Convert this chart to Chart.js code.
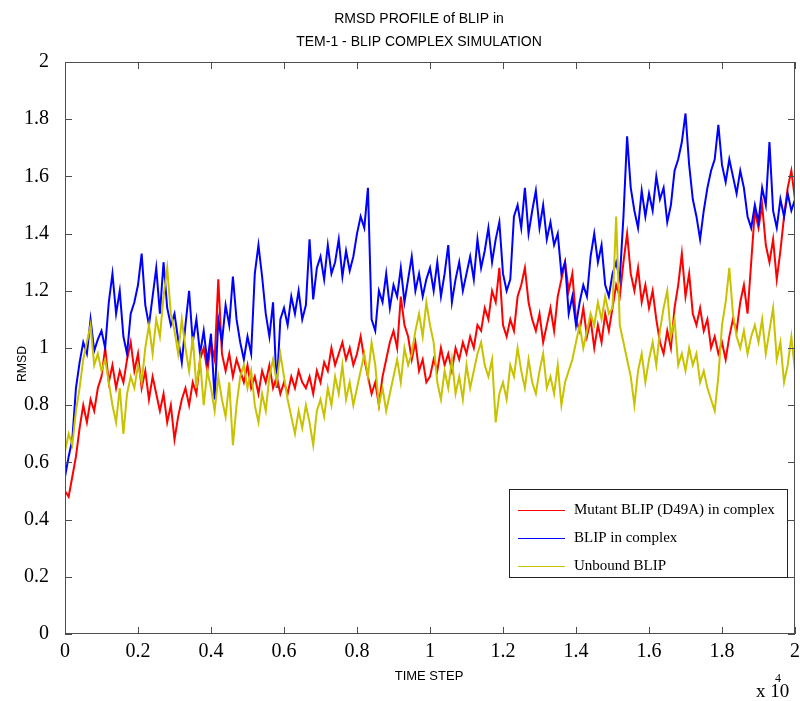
<!DOCTYPE html>
<html lang="en">
<head>
    <meta charset="UTF-8">
    <title>RMSD Profile of BLIP</title>
    <script src="https://cdn.jsdelivr.net/npm/chart.js"></script>
    <style>
        * {
            margin: 0;
            padding: 0;
            box-sizing: border-box;
        }

        body {
            background: #ffffff;
            width: 800px;
            height: 701px;
            overflow: hidden;
        }

        .chart-container {
            position: relative;
            width: 800px;
            height: 701px;
        }
    </style>
</head>
<body>
    <div class="chart-container">
        <canvas id="rmsdChart"></canvas>
    </div>

    <script>
        // values, one sample every 100 time steps (0 .. 20000)
        const mutantBlip = [
            0.50, 0.48, 0.55, 0.62, 0.72, 0.80, 0.74, 0.82, 0.78, 0.86,
            0.90, 1.00, 0.88, 0.94, 0.86, 0.92, 0.88, 0.96, 1.02, 0.92,
            0.98, 0.86, 0.92, 0.82, 0.90, 0.84, 0.78, 0.84, 0.74, 0.80,
            0.68, 0.76, 0.82, 0.86, 0.80, 0.88, 0.84, 0.96, 1.00, 0.92,
            1.02, 0.96, 1.24, 0.98, 0.92, 0.98, 0.90, 0.96, 0.92, 0.88,
            0.94, 0.86, 0.90, 0.84, 0.92, 0.88, 0.94, 0.86, 0.90, 0.84,
            0.88, 0.84, 0.90, 0.86, 0.92, 0.88, 0.86, 0.90, 0.84, 0.92,
            0.88, 0.95, 0.92, 1.00, 0.94, 0.98, 1.02, 0.96, 1.00, 0.94,
            0.98, 1.04, 0.96, 0.90, 0.84, 0.88, 0.80, 0.90, 0.96, 1.02,
            1.06, 1.00, 1.18, 1.08, 1.04, 0.96, 1.02, 0.92, 0.96, 0.88,
            0.90, 0.96, 0.92, 1.00, 0.94, 0.98, 0.92, 1.00, 0.96, 1.02,
            0.98, 1.04, 1.00, 1.08, 1.06, 1.14, 1.10, 1.20, 1.16, 1.28,
            1.08, 1.04, 1.10, 1.06, 1.18, 1.22, 1.28, 1.16, 1.10, 1.06,
            1.12, 1.02, 1.08, 1.14, 1.06, 1.18, 1.24, 1.30, 1.20, 1.26,
            1.10, 1.06, 1.14, 1.04, 1.10, 1.00, 1.08, 1.02, 1.12, 1.06,
            1.14, 1.22, 1.18, 1.30, 1.40, 1.26, 1.20, 1.28, 1.16, 1.22,
            1.14, 1.20, 1.10, 1.02, 0.98, 1.06, 1.00, 1.14, 1.22, 1.33,
            1.18, 1.26, 1.12, 1.08, 1.14, 1.06, 1.10, 1.00, 1.04, 0.98,
            1.02, 0.96, 1.04, 1.10, 1.06, 1.16, 1.22, 1.12, 1.30, 1.48,
            1.42, 1.50, 1.36, 1.30, 1.38, 1.24, 1.34, 1.46, 1.56, 1.62,
            1.52
        ];

        const blipComplex = [
            0.55, 0.62, 0.68, 0.86, 0.95, 1.02, 0.98, 1.10, 0.99, 1.03,
            1.06, 1.00, 1.16, 1.26, 1.12, 1.20, 1.04, 0.98, 1.12, 1.16,
            1.22, 1.33, 1.15, 1.08, 1.18, 1.28, 1.12, 1.30, 1.14, 1.08,
            1.12, 1.03, 0.95, 1.08, 1.20, 1.02, 1.10, 0.98, 1.06, 0.95,
            1.05, 0.82, 1.10, 1.02, 1.15, 1.08, 1.25, 1.10, 1.02, 0.96,
            1.04, 0.98, 1.26, 1.36, 1.25, 1.12, 1.04, 1.16, 0.86, 1.10,
            1.14, 1.08, 1.18, 1.12, 1.20, 1.10, 1.15, 1.38, 1.17, 1.28,
            1.32, 1.24, 1.36, 1.26, 1.30, 1.38, 1.25, 1.34, 1.27, 1.32,
            1.40, 1.46, 1.42, 1.56, 1.10, 1.06, 1.20, 1.16, 1.26, 1.14,
            1.22, 1.18, 1.28, 1.16, 1.24, 1.32, 1.20, 1.26, 1.18, 1.24,
            1.28, 1.20, 1.30, 1.18, 1.26, 1.36, 1.16, 1.24, 1.30, 1.20,
            1.26, 1.32, 1.24, 1.38, 1.28, 1.34, 1.42, 1.30, 1.38, 1.44,
            1.26, 1.20, 1.24, 1.46, 1.50, 1.42, 1.56, 1.40, 1.48, 1.55,
            1.42, 1.50, 1.38, 1.44, 1.36, 1.40, 1.26, 1.30, 1.12, 1.18,
            1.08, 1.16, 1.22, 1.18, 1.32, 1.40, 1.30, 1.36, 1.22, 1.18,
            1.26, 1.30, 1.24, 1.46, 1.74, 1.56, 1.48, 1.42, 1.55, 1.46,
            1.54, 1.48, 1.60, 1.52, 1.56, 1.44, 1.50, 1.62, 1.66, 1.72,
            1.82, 1.64, 1.52, 1.46, 1.38, 1.48, 1.56, 1.62, 1.66, 1.78,
            1.64, 1.58, 1.66, 1.60, 1.54, 1.62, 1.56, 1.46, 1.42, 1.50,
            1.44, 1.56, 1.50, 1.72, 1.48, 1.42, 1.52, 1.46, 1.54, 1.48,
            1.52
        ];

        const unboundBlip = [
            0.64, 0.70, 0.66, 0.78, 0.86, 0.96, 1.02, 1.08, 0.94, 0.98,
            0.92, 0.96, 0.88, 0.80, 0.74, 0.86, 0.70, 0.84, 0.90, 0.86,
            0.94, 0.88, 1.00, 1.08, 0.98, 1.10, 1.04, 1.18, 1.28, 1.12,
            1.06, 0.98, 1.10, 1.00, 0.92, 1.04, 0.86, 0.96, 0.80, 0.92,
            0.86, 0.78, 0.90, 0.82, 0.76, 0.88, 0.66, 0.80, 0.90, 0.94,
            0.86, 0.92, 0.80, 0.74, 0.84, 0.78, 0.90, 0.96, 0.88, 0.98,
            0.90, 0.82, 0.76, 0.70, 0.78, 0.72, 0.80, 0.74, 0.66, 0.78,
            0.82, 0.76, 0.86, 0.80, 0.90, 0.84, 0.94, 0.82, 0.88, 0.80,
            0.86, 0.92, 0.98, 0.90, 1.02, 0.94, 0.80, 0.86, 0.78, 0.84,
            0.90, 0.96, 0.88, 1.00, 0.94, 0.98, 1.06, 1.12, 1.04, 1.16,
            1.08, 1.02, 0.88, 0.82, 0.92, 0.86, 0.96, 0.84, 0.90, 0.82,
            0.94, 0.86, 0.92, 0.98, 1.02, 0.94, 0.90, 0.96, 0.74, 0.84,
            0.88, 0.82, 0.94, 0.90, 1.00, 0.92, 0.86, 0.96, 0.88, 0.84,
            0.92, 0.98, 0.86, 0.90, 0.84, 0.94, 0.80, 0.88, 0.92, 0.96,
            1.02, 1.08, 1.00, 1.06, 1.12, 1.08, 1.16, 1.10, 1.18, 1.12,
            1.14, 1.46, 1.08, 1.02, 0.96, 0.90, 0.80, 0.92, 0.98, 0.88,
            0.96, 1.02, 0.94, 1.06, 1.14, 1.20, 1.04, 1.10, 0.94, 0.98,
            0.92, 1.00, 0.94, 0.98, 0.88, 0.92, 0.86, 0.82, 0.78, 0.90,
            1.08, 1.16, 1.28, 1.12, 1.04, 1.00, 1.06, 0.98, 1.04, 1.08,
            1.02, 1.10, 0.98, 1.06, 1.14, 0.96, 1.02, 0.88, 0.94, 1.04,
            0.92
        ];

        const timeSteps = mutantBlip.map((_, i) => i * 100);
        const seriesNames = ['Mutant BLIP (D49A) in complex', 'BLIP in complex', 'Unbound BLIP'];
        const xTickLabels = ['0', '0.2', '0.4', '0.6', '0.8', '1', '1.2', '1.4', '1.6', '1.8', '2'];
        const yTickLabels = ['0', '0.2', '0.4', '0.6', '0.8', '1', '1.2', '1.4', '1.6', '1.8', '2'];

        const colors = ['#ff0000', '#0000ff', '#c8c200'];
        const axisColor = '#4d4d4d';

        function toPoints(values) {
            return values.map((v, i) => ({ x: timeSteps[i], y: v }));
        }

        // box, inward ticks, titles, legend - the MATLAB look
        const matlabFrame = {
            id: 'matlabFrame',
            afterDraw(chart) {
                const { ctx, chartArea: a, scales: { x, y } } = chart;
                ctx.save();

                ctx.strokeStyle = axisColor;
                ctx.lineWidth = 1;
                ctx.strokeRect(a.left + 0.5, a.top + 0.5, a.right - a.left - 1, a.bottom - a.top - 1);

                const tick = 7;
                ctx.beginPath();
                x.ticks.forEach(t => {
                    const px = Math.round(x.getPixelForValue(t.value)) + 0.5;
                    ctx.moveTo(px, a.bottom); ctx.lineTo(px, a.bottom - tick);
                    ctx.moveTo(px, a.top); ctx.lineTo(px, a.top + tick);
                });
                y.ticks.forEach(t => {
                    const py = Math.round(y.getPixelForValue(t.value)) + 0.5;
                    ctx.moveTo(a.left, py); ctx.lineTo(a.left + tick, py);
                    ctx.moveTo(a.right, py); ctx.lineTo(a.right - tick, py);
                });
                ctx.stroke();

                // title
                ctx.fillStyle = '#000';
                ctx.textAlign = 'center';
                ctx.textBaseline = 'middle';
                ctx.font = '14px "Liberation Sans", Arial, sans-serif';
                ctx.fillText('RMSD PROFILE of BLIP in', 419, 19, 183);
                ctx.fillText('TEM-1 - BLIP COMPLEX SIMULATION', 419, 42, 268);

                // axis titles
                ctx.font = '13px "Liberation Sans", Arial, sans-serif';
                ctx.fillText('TIME STEP', 429, 676, 78);
                ctx.save();
                ctx.translate(22, 364);
                ctx.rotate(-Math.PI / 2);
                ctx.fillText('RMSD', 0, 0, 36);
                ctx.restore();

                // exponent
                ctx.font = '19px "Liberation Serif", "Times New Roman", serif';
                ctx.textAlign = 'left';
                ctx.textBaseline = 'alphabetic';
                ctx.fillText('x 10', 756, 697);
                ctx.font = '12px "Liberation Serif", "Times New Roman", serif';
                ctx.fillText('4', 775, 682);

                // legend
                const lx = 509, ly = 489, lw = 278, lh = 88;
                ctx.fillStyle = '#fff';
                ctx.fillRect(lx, ly, lw, lh);
                ctx.strokeStyle = '#222';
                ctx.strokeRect(lx + 0.5, ly + 0.5, lw, lh);
                ctx.font = '15px "Liberation Serif", "Times New Roman", serif';
                ctx.textBaseline = 'middle';
                chart.data.datasets.forEach((ds, i) => {
                    const ry = ly + 21 + i * 28;
                    ctx.strokeStyle = ds.borderColor;
                    ctx.lineWidth = 1;
                    ctx.beginPath();
                    ctx.moveTo(lx + 9, ry + 0.5);
                    ctx.lineTo(lx + 56, ry + 0.5);
                    ctx.stroke();
                    ctx.fillStyle = '#000';
                    ctx.fillText(ds.label, lx + 65, ry);
                });

                ctx.restore();
            }
        };

        const ctx = document.getElementById('rmsdChart').getContext('2d');
        new Chart(ctx, {
            type: 'line',
            data: {
                datasets: [
                    { label: seriesNames[0], data: toPoints(mutantBlip), borderColor: colors[0], order: 3 },
                    { label: seriesNames[1], data: toPoints(blipComplex), borderColor: colors[1], order: 2 },
                    { label: seriesNames[2], data: toPoints(unboundBlip), borderColor: colors[2], order: 1 }
                ]
            },
            options: {
                responsive: true,
                maintainAspectRatio: false,
                animation: false,
                layout: { padding: { top: 62, right: 5, left: 0, bottom: 0 } },
                elements: {
                    line: { borderWidth: 2, tension: 0 },
                    point: { radius: 0 }
                },
                plugins: {
                    legend: { display: false },
                    tooltip: { enabled: false }
                },
                scales: {
                    x: {
                        type: 'linear',
                        min: 0,
                        max: 20000,
                        afterFit: s => { s.height = 67; s.paddingRight = 0; s.paddingLeft = 0; },
                        grid: { display: false, drawTicks: false },
                        border: { display: false },
                        ticks: {
                            stepSize: 2000,
                            padding: 6,
                            color: '#000',
                            font: { family: '"Liberation Serif", "Times New Roman", serif', size: 20 },
                            callback: (v, i) => xTickLabels[i]
                        }
                    },
                    y: {
                        min: 0,
                        max: 2,
                        afterFit: s => { s.width = 65; s.paddingTop = 0; s.paddingBottom = 0; },
                        grid: { display: false, drawTicks: false },
                        border: { display: false },
                        ticks: {
                            stepSize: 0.2,
                            padding: 16,
                            color: '#000',
                            font: { family: '"Liberation Serif", "Times New Roman", serif', size: 20 },
                            callback: (v, i) => yTickLabels[i]
                        }
                    }
                }
            },
            plugins: [matlabFrame]
        });
    </script>
</body>
</html>
